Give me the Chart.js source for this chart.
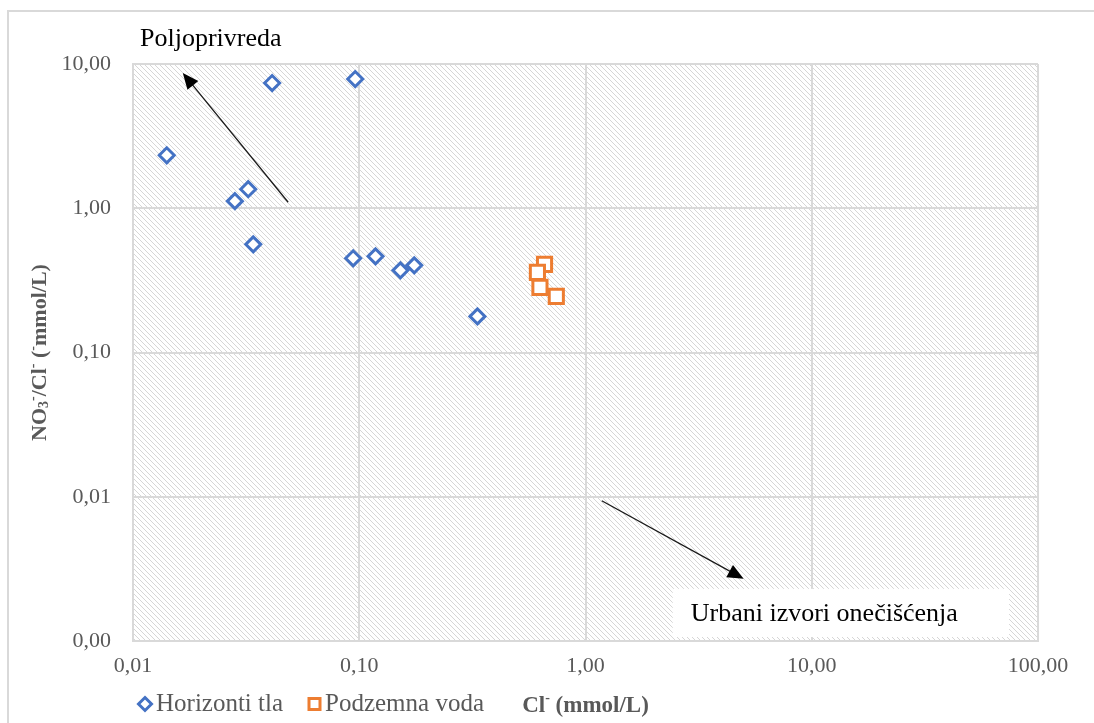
<!DOCTYPE html>
<html>
<head>
<meta charset="utf-8">
<script src="https://cdn.jsdelivr.net/npm/chart.js@4.4.1/dist/chart.umd.min.js"></script>
<style>
  html, body { margin: 0; background: #fff; }
</style>
</head>
<body>
<canvas id="chart" width="1094" height="723"></canvas>
<script>
// Horizonti tla
const soilCl = [0.0141, 0.0412, 0.096, 0.0323, 0.0282, 0.034, 0.094, 0.118, 0.152, 0.175, 0.333];
const soilRatio = [2.33, 7.38, 7.87, 1.355, 1.12, 0.562, 0.45, 0.464, 0.371, 0.402, 0.178];
// Podzemna voda
const waterCl = [0.659, 0.613, 0.629, 0.743];
const waterRatio = [0.408, 0.359, 0.283, 0.245];

const xTicks = [0.01, 0.1, 1, 10, 100];
const yTicks = [0.001, 0.01, 0.1, 1, 10];

// arrows, in data units: [from, to]
const arrowAgri = [[0.0485, 1.10], [0.0166, 8.66]];
const arrowUrban = [[1.18, 0.00938], [5.0, 0.0027]];

const FONT = "'Liberation Serif', 'Times New Roman', serif";
const GREY = '#595959';
const GRID = '#d9d9d9';

function fmt(v) {
    return Number(v).toFixed(2).replace('.', ',');
}

function makeHatch(ctx) {
    const t = document.createElement('canvas');
    t.width = 5; t.height = 5;
    const g = t.getContext('2d');
    g.fillStyle = '#fff';
    g.fillRect(0, 0, 5, 5);
    g.strokeStyle = '#d6d6d6';
    g.lineWidth = 1;
    g.beginPath();
    g.moveTo(-1, -1); g.lineTo(6, 6);
    g.moveTo(4, -1); g.lineTo(6, 1);
    g.moveTo(-1, 4); g.lineTo(1, 6);
    g.stroke();
    return ctx.createPattern(t, 'repeat');
}

function drawArrow(ctx, x1, y1, x2, y2) {
    const a = Math.atan2(y2 - y1, x2 - x1);
    const len = 16, half = 7;
    ctx.save();
    ctx.strokeStyle = '#1a1a1a';
    ctx.fillStyle = '#000';
    ctx.lineWidth = 1.3;
    ctx.beginPath();
    ctx.moveTo(x1, y1);
    ctx.lineTo(x2 - Math.cos(a) * len * 0.8, y2 - Math.sin(a) * len * 0.8);
    ctx.stroke();
    ctx.beginPath();
    ctx.moveTo(x2, y2);
    ctx.lineTo(x2 - Math.cos(a) * len + Math.sin(a) * half, y2 - Math.sin(a) * len - Math.cos(a) * half);
    ctx.lineTo(x2 - Math.cos(a) * len - Math.sin(a) * half, y2 - Math.sin(a) * len + Math.cos(a) * half);
    ctx.closePath();
    ctx.fill();
    ctx.restore();
}

// text with sub/superscript parts: [text, kind] kind = 0 normal, 1 sup, -1 sub
function richText(ctx, parts, x, y, size, align) {
    const small = Math.round(size * 0.62);
    const font = s => 'bold ' + s + 'px ' + FONT;
    let w = 0;
    parts.forEach(p => { ctx.font = font(p[1] ? small : size); w += ctx.measureText(p[0]).width; });
    let cx = align === 'center' ? x - w / 2 : x;
    ctx.textAlign = 'left';
    parts.forEach(p => {
        ctx.font = font(p[1] ? small : size);
        const dy = p[1] === 1 ? -size * 0.32 : p[1] === -1 ? size * 0.22 : 0;
        ctx.fillText(p[0], cx, y + dy);
        cx += ctx.measureText(p[0]).width;
    });
}

const decor = {
    id: 'decor',
    beforeDraw(chart) {
        const { ctx, chartArea: a } = chart;
        ctx.save();
        // outer frame
        ctx.strokeStyle = GRID;
        ctx.lineWidth = 2;
        ctx.strokeRect(8, 11, 1200, 800);
        // hatched plot area
        ctx.fillStyle = makeHatch(ctx);
        ctx.fillRect(a.left, a.top, a.right - a.left, a.bottom - a.top);
        ctx.restore();
    },
    afterDraw(chart) {
        const { ctx, chartArea: a } = chart;
        const xs = chart.scales.x, ys = chart.scales.y;
        const px = p => [xs.getPixelForValue(p[0]), ys.getPixelForValue(p[1])];

        // arrows
        let [f, t] = [px(arrowAgri[0]), px(arrowAgri[1])];
        drawArrow(ctx, f[0], f[1], t[0], t[1]);
        [f, t] = [px(arrowUrban[0]), px(arrowUrban[1])];
        drawArrow(ctx, f[0], f[1], t[0], t[1]);

        ctx.save();
        // white box for urban label
        const bx = xs.getPixelForValue(2.43), bx2 = xs.getPixelForValue(74.5);
        const by = ys.getPixelForValue(0.0023);
        ctx.fillStyle = '#fff';
        ctx.fillRect(bx, by, bx2 - bx, a.bottom - 4 - by);

        ctx.fillStyle = '#000';
        ctx.textBaseline = 'middle';
        ctx.textAlign = 'left';
        ctx.font = '26px ' + FONT;
        ctx.fillText('Urbani izvori onečišćenja', bx + 18, (by + a.bottom) / 2 - 1);
        ctx.fillText('Poljoprivreda', a.left + 7, a.top - 25);

        // legend
        const ly = 704;
        ctx.lineWidth = 3;
        ctx.strokeStyle = '#4472c4';
        ctx.fillStyle = '#fff';
        ctx.beginPath();
        ctx.moveTo(145, ly - 6.5); ctx.lineTo(151.5, ly); ctx.lineTo(145, ly + 6.5); ctx.lineTo(138.5, ly);
        ctx.closePath(); ctx.fill(); ctx.stroke();
        ctx.strokeStyle = '#ed7d31';
        ctx.beginPath();
        ctx.rect(309, ly - 5.5, 11, 11);
        ctx.fill(); ctx.stroke();

        ctx.fillStyle = GREY;
        ctx.font = '25px ' + FONT;
        ctx.fillText('Horizonti tla', 156, ly);
        ctx.fillText('Podzemna voda', 325, ly);

        // x axis title
        richText(ctx, [['Cl', 0], ['-', 1], [' (mmol/L)', 0]], (a.left + a.right) / 2, ly + 2, 23, 'center');

        // y axis title
        ctx.translate(40, (a.top + a.bottom) / 2);
        ctx.rotate(-Math.PI / 2);
        richText(ctx, [['NO', 0], ['3', -1], ['-', 1], ['/Cl', 0], ['-', 1], [' (', 0], ['-', 1], ['mmol/L)', 0]], 0, 0, 22, 'center');
        ctx.restore();
    }
};

new Chart(document.getElementById('chart'), {
    type: 'scatter',
    data: {
        datasets: [{
            label: 'Horizonti tla',
            data: soilCl.map((x, i) => ({ x: x, y: soilRatio[i] })),
            pointStyle: 'rectRot',
            pointRadius: 7.5,
            pointHoverRadius: 7.5,
            borderColor: '#4472c4',
            backgroundColor: '#fff',
            borderWidth: 3
        }, {
            label: 'Podzemna voda',
            data: waterCl.map((x, i) => ({ x: x, y: waterRatio[i] })),
            pointStyle: 'rect',
            pointRadius: 10,
            pointHoverRadius: 10,
            borderColor: '#ed7d31',
            backgroundColor: '#fff',
            borderWidth: 3
        }]
    },
    options: {
        responsive: false,
        animation: false,
        layout: { padding: { left: 0, top: 64, right: 56, bottom: 0 } },
        scales: {
            x: {
                type: 'logarithmic',
                min: 0.01,
                max: 100,
                afterBuildTicks: s => { s.ticks = xTicks.map(v => ({ value: v })); },
                afterFit: s => { s.height = 82; },
                ticks: {
                    callback: v => fmt(v),
                    font: { family: FONT, size: 22 },
                    color: GREY,
                    padding: 12,
                    maxRotation: 0
                },
                grid: { color: GRID, lineWidth: 2, drawTicks: false },
                border: { color: GRID, width: 2 }
            },
            y: {
                type: 'logarithmic',
                min: 0.001,
                max: 10,
                afterBuildTicks: s => { s.ticks = yTicks.map(v => ({ value: v })); },
                afterFit: s => { s.width = 133; },
                ticks: {
                    callback: v => fmt(v),
                    font: { family: FONT, size: 22 },
                    color: GREY,
                    padding: 22
                },
                grid: { color: GRID, lineWidth: 2, drawTicks: false },
                border: { color: GRID, width: 2 }
            }
        },
        plugins: {
            legend: { display: false },
            tooltip: { enabled: false }
        }
    },
    plugins: [decor]
});
</script>
</body>
</html>
